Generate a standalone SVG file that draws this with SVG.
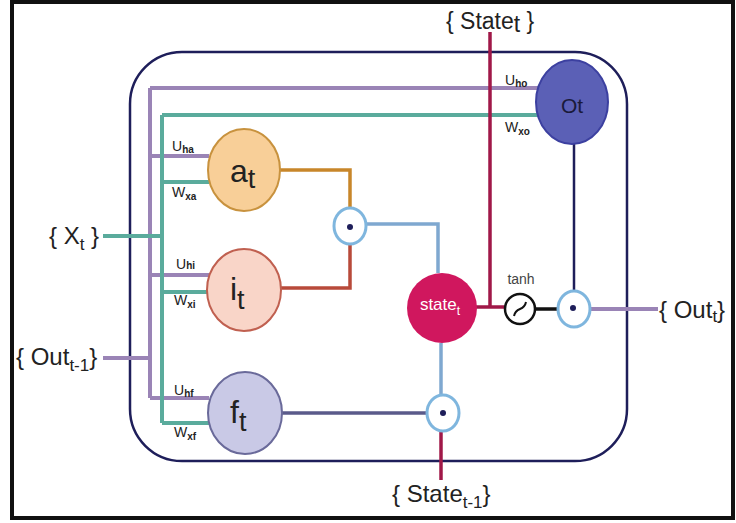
<svg xmlns="http://www.w3.org/2000/svg" width="736" height="523" viewBox="0 0 736 523">
<style>
text{font-family:"Liberation Sans",Arial,sans-serif;fill:#222}
.lbl{font-size:24px}
.sb{font-size:17px}
.w{font-size:14px}
.ws{font-size:10px;font-weight:bold}
.pur{stroke:#9a84b6;stroke-width:4;fill:none}
.teal{stroke:#5aab9c;stroke-width:4;fill:none}
.mul{fill:#fff;stroke:#7fb6de;stroke-width:3}
.dot{fill:#1e1e5a}
.nm{font-size:32px}
.ns{font-size:27px}
</style>
<rect width="736" height="523" fill="#fff"/>
<rect x="12" y="2" width="721" height="516" fill="none" stroke="#111" stroke-width="4"/>
<rect x="130" y="52" width="497" height="409" rx="52" ry="52" fill="none" stroke="#1e1e5a" stroke-width="2.5"/>
<g id="connectors">
<path class="pur" d="M103,358 H150 M150,88 V398 M150,88 H538 M150,156 H209 M150,275 H209 M150,398 H209"/>
<path class="teal" d="M103,236 H162 M162,115 V423 M162,115 H538 M162,182 H209 M162,292 H209 M162,423 H209"/>
<path d="M280,170 H350 V210" stroke="#c8862a" stroke-width="3.5" fill="none"/>
<path d="M281,288 H350 V244" stroke="#b84a3a" stroke-width="3.5" fill="none"/>
<path d="M367,224 H438 V273" stroke="#7fa8d0" stroke-width="3.5" fill="none"/>
<path d="M282,413 H427" stroke="#5a5a8a" stroke-width="3.5" fill="none"/>
<path d="M441,396 V343" stroke="#7fa8d0" stroke-width="3.5" fill="none"/>
<path d="M441,430 V480" stroke="#a01848" stroke-width="3.5" fill="none"/>
<path d="M490,32 V307 M476,307 H504" stroke="#a01848" stroke-width="3.5" fill="none"/>
<path d="M536,309 H557" stroke="#111" stroke-width="3.5" fill="none"/>
<path d="M574,144 V292" stroke="#1e1e5a" stroke-width="2.5" fill="none"/>
<path d="M591,309 H658" stroke="#9a84b6" stroke-width="4" fill="none"/>
</g>
<g id="labels">
<text x="172" y="151" class="w">U<tspan class="ws" dy="2">ha</tspan></text>
<text x="172" y="197" class="w">W<tspan class="ws" dy="3">xa</tspan></text>
<text x="176" y="269" class="w">U<tspan class="ws" dy="0">hi</tspan></text>
<text x="174" y="305" class="w">W<tspan class="ws" dy="3">xi</tspan></text>
<text x="174" y="395" class="w">U<tspan class="ws" dy="2">hf</tspan></text>
<text x="174" y="437" class="w">W<tspan class="ws" dy="3">xf</tspan></text>
<text x="505" y="85" class="w">U<tspan class="ws" dy="2">ho</tspan></text>
<text x="505" y="132" class="w">W<tspan class="ws" dy="3">xo</tspan></text>
</g>
<g id="in-x"><text x="49" y="244" class="lbl">{ X<tspan class="sb" dy="6">t</tspan><tspan dy="-6"> }</tspan></text></g>
<g id="in-out"><text x="16" y="365" class="lbl">{ Out<tspan class="sb" dy="6">t-1</tspan><tspan dy="-6">}</tspan></text></g>
<g id="out"><text x="659" y="318" class="lbl">{ Out<tspan class="sb" dy="4">t</tspan><tspan dy="-4">}</tspan></text></g>
<g id="state-prev"><text x="392" y="502" class="lbl">{ State<tspan class="sb" dy="6">t-1</tspan><tspan dy="-6">}</tspan></text></g>
<g id="state-out"><text x="446" y="29" font-size="23">{ State<tspan dy="3">t</tspan><tspan dy="-3"> }</tspan></text></g>
<g id="a"><ellipse cx="244" cy="170" rx="36" ry="41" fill="#f8cf98" stroke="#c8923e" stroke-width="2"/><text x="230" y="182" class="nm">a<tspan class="ns" dy="6">t</tspan></text></g>
<g id="i"><ellipse cx="244" cy="290" rx="37" ry="41" fill="#f9d5c8" stroke="#c06050" stroke-width="2"/><text x="230" y="300" class="nm">i<tspan class="ns" dy="9">t</tspan></text></g>
<g id="f"><ellipse cx="245" cy="413" rx="37" ry="41" fill="#c9c9e6" stroke="#6a6a9a" stroke-width="2"/><text x="230" y="423" class="nm">f<tspan class="ns" dy="8">t</tspan></text></g>
<g id="o"><ellipse cx="572" cy="102" rx="36" ry="42" fill="#5b60b6" stroke="#3c40a0" stroke-width="2"/><text x="572" y="113" font-size="21" text-anchor="middle" style="fill:#1a1a3a">Ot</text></g>
<g id="state"><ellipse cx="442" cy="308" rx="35" ry="35" fill="#d0175e"/><text x="440" y="310" font-size="17" text-anchor="middle" style="fill:#fff">state<tspan font-size="12" dy="5">t</tspan></text></g>
<g id="mul1"><ellipse cx="350" cy="226" rx="16" ry="18" class="mul"/><circle cx="350" cy="227" r="3" class="dot"/></g>
<g id="mul2"><ellipse cx="443" cy="413" rx="16" ry="18" class="mul"/><circle cx="443" cy="413" r="3" class="dot"/></g>
<g id="mul3"><ellipse cx="574" cy="309" rx="16" ry="18" class="mul"/><circle cx="573" cy="308" r="3" class="dot"/></g>
<g id="tanh"><circle cx="520" cy="309" r="15" fill="#fff" stroke="#111" stroke-width="2.5"/><path d="M514,316 C516,306 524,312 526,302" stroke="#111" stroke-width="2" fill="none"/><text x="521" y="284" font-size="14" text-anchor="middle" style="fill:#444">tanh</text></g>
</svg>
